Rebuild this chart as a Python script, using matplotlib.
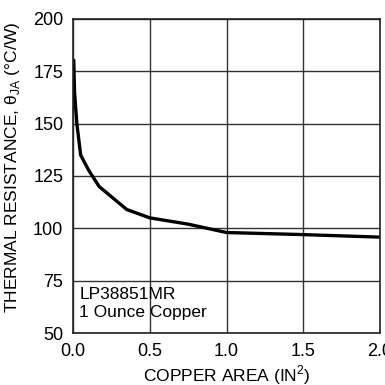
import matplotlib
matplotlib.use("Agg")
import matplotlib.pyplot as plt

plt.rcParams['font.family'] = ['Liberation Sans', 'DejaVu Sans']

area = [0.005, 0.01, 0.025, 0.05, 0.1, 0.17, 0.35, 0.5, 0.75, 1.0, 1.5, 2.0]
theta = [180, 165, 150, 135, 128, 120, 109, 105, 102, 98, 97, 95.8]

xticks = [0.0, 0.5, 1.0, 1.5, 2.0]
xticklabels = ["0.0", "0.5", "1.0", "1.5", "2.0"]
yticks = [50, 75, 100, 125, 150, 175, 200]

fig = plt.figure(figsize=(3.85, 3.85), dpi=100)
ax = fig.add_axes([73/385, 1 - 333/385, (380-73)/385, (333-19)/385])
ax.plot(area, theta, color='black', lw=2.4, solid_joinstyle='miter')
ax.set_xlim(0, 2.0)
ax.set_ylim(50, 200)
ax.set_xticks(xticks)
ax.set_xticklabels(xticklabels)
ax.set_yticks(yticks)
ax.grid(True, color='#333333', lw=1.0)
ax.tick_params(length=0, labelsize=13)
ax.tick_params(axis='x', pad=7)
ax.tick_params(axis='y', pad=7)
for s in ax.spines.values():
    s.set_linewidth(1.2)
    s.set_color('#222222')
ax.set_xlabel("COPPER AREA (IN$^{\\mathregular{2}}$)", fontsize=12.5, labelpad=2.5)
ax.set_ylabel("THERMAL RESISTANCE, θ$_{\\mathregular{JA}}$ (°C/W)", fontsize=12.5)
ax.yaxis.set_label_coords(-0.165, 0.527)
ax.text(0.02, 0.145, "LP38851MR\n1 Ounce Copper", transform=ax.transAxes,
        fontsize=12.5, va='top', ha='left', linespacing=1.25)
fig.savefig("out.png", dpi=100)
